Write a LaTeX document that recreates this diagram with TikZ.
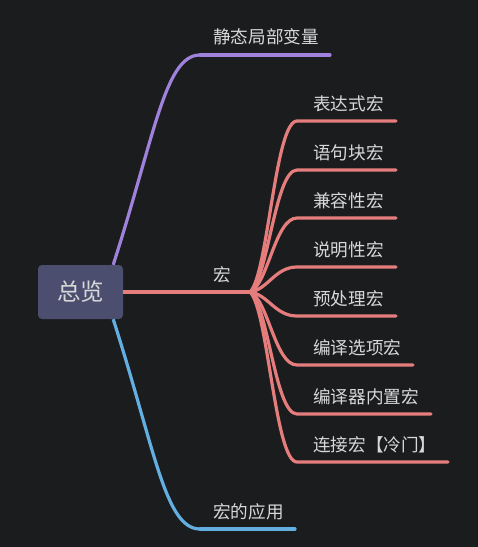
\documentclass[tikz,border=0pt]{standalone}
\usepackage{fontspec}
\newfontfamily\cjk{Noto Sans CJK SC}
\usetikzlibrary{calc}
\definecolor{bgc}{HTML}{1B1C1E}
\definecolor{boxc}{HTML}{4C4E70}
\definecolor{txtc}{HTML}{D8D8D8}
\definecolor{redc}{HTML}{E67D7D}
\definecolor{purc}{HTML}{A082DC}
\definecolor{bluc}{HTML}{64AFE1}
\tikzset{
  lbl/.style={anchor=west, inner sep=0pt, text=txtc, font=\cjk\fontsize{17.6}{17.6}\selectfont},
  rootbox/.style={fill=boxc, rounded corners=4pt, minimum width=85pt, minimum height=54pt, inner sep=0pt, text=txtc, font=\cjk\fontsize{23.5}{23.5}\selectfont},
  conn/.style={line width=3.2pt, line cap=round},
}
\begin{document}
\begin{tikzpicture}[x=1pt,y=-1pt]
\fill[bgc] (0,0) rectangle (478,547);
\useasboundingbox (0,0) rectangle (478,547);
\node[rootbox] (root) at (80.5,292) {总览};
% level 1
\node[lbl] (l1) at (213,37) {静态局部变量};
\node[lbl] (l2) at (213,275) {宏};
\node[lbl] (l3) at (213,512) {宏的应用};
\coordinate (ps) at ($(root.north east)+(-10,0)$);
\coordinate (pc) at (200,55);
\coordinate (pe) at (330,55);
\coordinate (bs) at ($(root.south east)+(-10,0)$);
\coordinate (bc) at (200,529);
\coordinate (be) at (295,529);
\coordinate (hub) at (250,292);
\draw[conn, purc, line cap=butt] (ps) .. controls (155,135) and (165,55) .. (pc);
\draw[conn, purc] (pc) -- (pe);
\draw[conn, bluc, line cap=butt] (bs) .. controls (155,449) and (165,529) .. (bc);
\draw[conn, bluc] (bc) -- (be);
\draw[conn, redc, line cap=butt] (root.east) -- (hub);
\foreach \i/\y/\ex/\txt in {1/121/396/表达式宏, 2/170/396/语句块宏, 3/218/396/兼容性宏, 4/267/396/说明性宏, 5/316/396/预处理宏, 6/365/413/编译选项宏, 7/414/431/编译器内置宏, 8/462/448/连接宏【冷门】}{
  \node[lbl] (t\i) at (313,{\y-17}) {\txt};
  \coordinate (s\i) at (297,\y);
  \coordinate (e\i) at (\ex,\y);
  \draw[conn, redc] (hub) .. controls ($(hub)!0.1!(hub|-s\i)+(18,0)$) and ($(s\i)+(-22,0)$) .. (s\i) -- (e\i);
}
\end{tikzpicture}
\end{document}
